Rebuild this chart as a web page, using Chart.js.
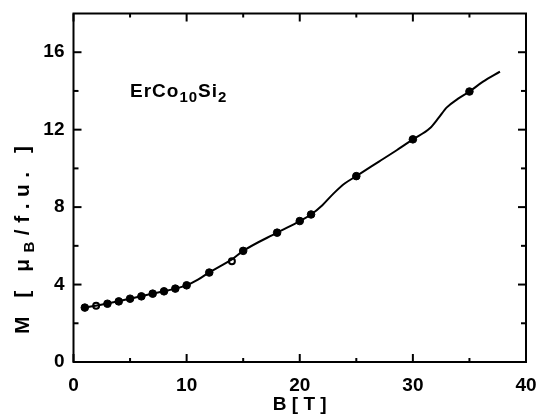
<!DOCTYPE html>
<html>
<head>
<meta charset="utf-8">
<script src="https://cdn.jsdelivr.net/npm/chart.js@4"></script>
<style>
  body { margin: 0; background: #fff; }
  canvas { display: block; }
</style>
</head>
<body>
<canvas id="mChart" width="543" height="415"></canvas>
<script>
// measured points (filled)
const fieldB = [1, 3, 4, 5, 6, 7, 8, 9, 10, 12, 15, 18, 20, 21, 25, 30, 35]
const momentM = [2.81, 3.01, 3.13, 3.27, 3.39, 3.53, 3.65, 3.79, 3.96, 4.62, 5.74, 6.68, 7.28, 7.62, 9.6, 11.5, 13.97]
// measured points (open)
const openB = [2, 14]
const openM = [2.91, 5.2]
// smooth guide line
const curveB = [1, 3, 5, 7, 9, 10, 11, 12, 14, 15, 18, 20, 21, 22, 23, 24, 25, 27, 28.6, 30, 31.5, 32.25, 33, 34, 35, 36.2, 37.7]
const curveM = [2.81, 3.02, 3.27, 3.53, 3.79, 3.96, 4.25, 4.63, 5.3, 5.74, 6.68, 7.28, 7.62, 8.1, 8.71, 9.23, 9.6, 10.35, 10.95, 11.5, 12.07, 12.59, 13.15, 13.6, 13.97, 14.48, 15.0]

const xTicks = [0, 10, 20, 30, 40]
const xMinor = [5, 15, 25, 35]
const yTicks = [0, 4, 8, 12, 16]
const yMinor = [2, 6, 10, 14]

const FAMILY = '"Liberation Sans", Arial, sans-serif'
const FONT = 'bold 19px ' + FAMILY

const toPoints = (xs, ys) => xs.map((x, i) => ({ x: x, y: ys[i] }))

// drop the automatic label overflow padding so layout.padding decides
const noPad = (scale) => {
    scale.paddingTop = 0
    scale.paddingBottom = 0
    scale.paddingLeft = 0
    scale.paddingRight = 0
}

const framePlugin = {
    id: 'frame',
    afterDraw(chart) {
        const ctx = chart.ctx
        const { left, right, top, bottom } = chart.chartArea
        const xs = chart.scales.x
        const ys = chart.scales.y
        ctx.save()
        ctx.strokeStyle = '#000'
        ctx.lineWidth = 2
        ctx.strokeRect(left, top, right - left, bottom - top)

        // inward ticks on all four sides
        const tick = (x1, y1, x2, y2) => {
            ctx.beginPath()
            ctx.moveTo(x1, y1)
            ctx.lineTo(x2, y2)
            ctx.stroke()
        }
        xTicks.concat(xMinor).forEach((v) => {
            const len = xTicks.includes(v) ? 8 : 4
            const px = xs.getPixelForValue(v)
            tick(px, bottom, px, bottom - len)
            tick(px, top, px, top + len)
        })
        yTicks.concat(yMinor).forEach((v) => {
            const len = yTicks.includes(v) ? 8 : 5
            const py = ys.getPixelForValue(v)
            tick(left, py, left + len, py)
            tick(right, py, right - len, py)
        })

        ctx.fillStyle = '#000'
        ctx.textBaseline = 'alphabetic'

        // x axis title
        ctx.font = FONT
        ctx.textAlign = 'center'
        ctx.fillText('B [ T ]', (left + right) / 2, 410)

        // y axis title, rotated, with subscript B
        ctx.save()
        ctx.translate(29, 334)
        ctx.rotate(-Math.PI / 2)
        ctx.textAlign = 'left'
        ctx.letterSpacing = '6.5px'
        let pos = 0
        const part = (txt, font, dy) => {
            ctx.font = font
            ctx.fillText(txt, pos, dy)
            pos += ctx.measureText(txt).width
        }
        part('M [ \u03bc', 'bold 21px ' + FAMILY, 0)
        part('B', 'bold 15px ' + FAMILY, 5)
        part('/f.u. ]', 'bold 21px ' + FAMILY, 0)
        ctx.restore()

        // compound label
        ctx.letterSpacing = '1px'
        pos = 130
        const sub = 'bold 15px ' + FAMILY
        const main = 'bold 19px ' + FAMILY
        const lbl = (txt, font, y) => {
            ctx.font = font
            ctx.textAlign = 'left'
            ctx.fillText(txt, pos, y)
            pos += ctx.measureText(txt).width
        }
        lbl('ErCo', main, 97)
        lbl('10', sub, 102)
        lbl('Si', main, 97)
        lbl('2', sub, 102)
        ctx.restore()
    }
}

new Chart(document.getElementById('mChart'), {
    type: 'scatter',
    data: {
        datasets: [
            {
                type: 'line',
                data: toPoints(curveB, curveM),
                borderColor: '#000',
                borderWidth: 2,
                pointRadius: 0,
                cubicInterpolationMode: 'monotone',
                fill: false
            },
            {
                data: toPoints(fieldB, momentM),
                pointRadius: 3.8,
                pointBackgroundColor: '#000',
                pointBorderColor: '#000',
                pointBorderWidth: 1
            },
            {
                data: toPoints(openB, openM),
                pointRadius: 3,
                pointBackgroundColor: '#fff',
                pointBorderColor: '#000',
                pointBorderWidth: 2
            }
        ]
    },
    options: {
        responsive: false,
        animation: false,
        events: [],
        layout: { padding: { top: 13.5, right: 17, left: 0, bottom: 0 } },
        plugins: {
            legend: { display: false },
            tooltip: { enabled: false }
        },
        scales: {
            x: {
                type: 'linear',
                min: 0,
                max: 40,
                afterBuildTicks: (scale) => {
                    scale.ticks = xTicks.map((v) => ({ value: v }))
                },
                afterFit: (scale) => {
                    scale.height = 53
                    noPad(scale)
                },
                grid: { display: false, drawTicks: false },
                border: { display: false },
                ticks: {
                    color: '#000',
                    padding: 12,
                    maxRotation: 0,
                    font: { family: FAMILY, size: 19, weight: 'bold' }
                }
            },
            y: {
                type: 'linear',
                min: 0,
                max: 18,
                afterBuildTicks: (scale) => {
                    scale.ticks = yTicks.map((v) => ({ value: v }))
                },
                afterFit: (scale) => {
                    scale.width = 73.5
                    noPad(scale)
                },
                grid: { display: false, drawTicks: false },
                border: { display: false },
                ticks: {
                    color: '#000',
                    padding: 9,
                    font: { family: FAMILY, size: 19, weight: 'bold' }
                }
            }
        }
    },
    plugins: [framePlugin]
})
</script>
</body>
</html>
